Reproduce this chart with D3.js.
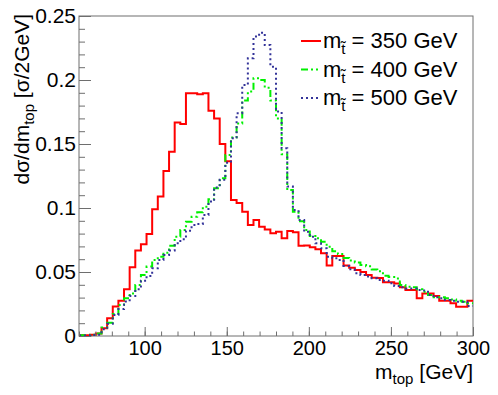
<!DOCTYPE html>
<html>
<head>
<meta charset="utf-8">
<script src="https://cdn.jsdelivr.net/npm/d3@7"></script>
<style>
body { margin: 0; background: #fff; }
text { font-family: "Liberation Sans", Arial, Helvetica, sans-serif; }
</style>
</head>
<body>
<div id="chart"></div>
<script>
let WIDTH = 498
let HEIGHT = 395

// histogram binning: 70 bins between 60 and 300 GeV
let binLow = 60
let binHigh = 300
let nBins = 70

// bin contents, one value per bin
let stop350 = [0.0005, 0.0005, 0.001, 0.002, 0.006, 0.0138, 0.023, 0.0276, 0.0365, 0.0537,
  0.0667, 0.0716, 0.0797, 0.099, 0.1089, 0.129, 0.144, 0.1667, 0.1656, 0.1896,
  0.1896, 0.1888, 0.1896, 0.176, 0.170, 0.150, 0.1365, 0.1063, 0.104, 0.0971,
  0.0867, 0.0906, 0.0854, 0.0833, 0.0802, 0.0815, 0.0763, 0.082, 0.081, 0.0705,
  0.0708, 0.0693, 0.0677, 0.0646, 0.0550, 0.0625, 0.0625, 0.0551, 0.0533, 0.0516,
  0.050, 0.0477, 0.0456, 0.0453, 0.042, 0.042, 0.041, 0.038, 0.0359, 0.0359,
  0.0294, 0.0333, 0.0333, 0.0312, 0.0276, 0.0276, 0.0255, 0.0229, 0.0229, 0.0276]

let stop400 = [0.0005, 0.0005, 0.001, 0.002, 0.0067, 0.0104, 0.0172, 0.0242, 0.0294, 0.0333,
  0.0398, 0.0477, 0.0542, 0.0594, 0.062, 0.0651, 0.0706, 0.0776, 0.0828, 0.0893,
  0.0932, 0.0966, 0.101, 0.1068, 0.1154, 0.1232, 0.1414, 0.155, 0.166, 0.184,
  0.191, 0.2013, 0.200, 0.194, 0.184, 0.17, 0.142, 0.114, 0.097, 0.0896,
  0.0828, 0.0781, 0.0763, 0.0737, 0.0698, 0.0662, 0.064, 0.061, 0.059, 0.0575,
  0.0555, 0.0545, 0.052, 0.0505, 0.047, 0.046, 0.045, 0.0398, 0.0385, 0.038,
  0.0365, 0.0346, 0.032, 0.0302, 0.0302, 0.0294, 0.0286, 0.0276, 0.0268, 0.0255]

let stop500 = [0.0003, 0.0003, 0.0008, 0.001, 0.0052, 0.0096, 0.0164, 0.021, 0.027, 0.0313,
  0.0365, 0.0432, 0.0469, 0.0529, 0.0594, 0.0633, 0.0667, 0.0724, 0.0755, 0.0823,
  0.0867, 0.0875, 0.0945, 0.105, 0.1161, 0.122, 0.1354, 0.1544, 0.174, 0.196,
  0.217, 0.2339, 0.237, 0.2273, 0.2104, 0.1753, 0.1466, 0.1167, 0.0984, 0.0906,
  0.0815, 0.0776, 0.0724, 0.0685, 0.062, 0.0607, 0.0594, 0.0547, 0.0521, 0.049,
  0.0477, 0.0464, 0.0451, 0.0438, 0.0432, 0.0412, 0.0391, 0.038, 0.0372, 0.0372,
  0.0359, 0.0355, 0.032, 0.0302, 0.0294, 0.0281, 0.0276, 0.0268, 0.0268, 0.0234]

let legendMasses = ['350', '400', '500']

let xMajor = [100, 150, 200, 250, 300]
let xMinor = d3.range(60, 301, 10)
let yMajor = [0, 0.05, 0.1, 0.15, 0.2, 0.25]
let yTickLabels = ['0', '0.05', '0.1', '0.15', '0.2', '0.25']
let yMinor = d3.range(0, 0.2501, 0.01)

let svg = d3.select('#chart')
    .append('svg')
    .attr('width', WIDTH)
    .attr('height', HEIGHT)

let x = d3.scaleLinear().domain([binLow, binHigh]).range([79, 473])
let y = d3.scaleLinear().domain([0, 0.25]).range([336, 16])

let frameColor = '#6e6e6e'
let labelSize = 21

// frame
svg.append('rect')
    .attr('x', x(binLow)).attr('y', y(0.25))
    .attr('width', x(binHigh) - x(binLow))
    .attr('height', y(0) - y(0.25))
    .attr('fill', 'none')
    .attr('stroke', frameColor)
    .attr('stroke-width', 1)

svg.append('clipPath').attr('id', 'plotArea')
    .append('rect')
    .attr('x', x(binLow) - 1).attr('y', y(0.25))
    .attr('width', x(binHigh) - x(binLow) + 2)
    .attr('height', y(0) - y(0.25) + 1)

let series = [
    { values: stop350, color: '#ff0000', dash: null },
    { values: stop400, color: '#00f000', dash: '7,3,2,3,2,3' },
    { values: stop500, color: '#333399', dash: '2,3' }
]

let binWidth = (binHigh - binLow) / nBins
let stepLine = d3.line()
    .x(d => x(d[0]))
    .y(d => y(d[1]))
    .curve(d3.curveStepAfter)

let histG = svg.append('g').attr('clip-path', 'url(#plotArea)')
series.forEach(s => {
    let pts = s.values.map((v, i) => [binLow + i * binWidth, v])
    pts.push([binHigh, s.values[s.values.length - 1]])
    histG.append('path')
        .attr('d', stepLine(pts))
        .attr('fill', 'none')
        .attr('stroke', s.color)
        .attr('stroke-width', 2)
        .attr('stroke-dasharray', s.dash)
})

// x axis: ticks inside the frame, labels below
let xMinorG = svg.append('g').attr('transform', `translate(0,${y(0)})`)
    .call(d3.axisBottom(x).tickValues(xMinor).tickSize(-4.5).tickSizeOuter(0).tickFormat(''))
xMinorG.select('.domain').remove()
let xMajorG = svg.append('g').attr('transform', `translate(0,${y(0)})`)
    .call(d3.axisBottom(x).tickValues(xMajor).tickSize(-9).tickSizeOuter(0).tickPadding(5))
xMajorG.select('.domain').remove()
xMajorG.selectAll('text').attr('font-size', 20).attr('fill', '#000')
    .attr('font-family', '"Liberation Sans", Arial, sans-serif')

// y axis
let yMinorG = svg.append('g').attr('transform', `translate(${x(binLow)},0)`)
    .call(d3.axisLeft(y).tickValues(yMinor).tickSize(-6).tickSizeOuter(0).tickFormat(''))
yMinorG.select('.domain').remove()
let yMajorG = svg.append('g').attr('transform', `translate(${x(binLow)},0)`)
    .call(d3.axisLeft(y).tickValues(yMajor).tickSize(-12).tickSizeOuter(0).tickPadding(3)
        .tickFormat((d, i) => yTickLabels[i]))
yMajorG.select('.domain').remove()
yMajorG.selectAll('text').attr('font-size', labelSize).attr('fill', '#000')
    .attr('font-family', '"Liberation Sans", Arial, sans-serif')

svg.selectAll('.tick line').attr('stroke', frameColor)

// axis titles
let xTitle = svg.append('text')
    .attr('x', 473).attr('y', 379)
    .attr('text-anchor', 'end')
    .attr('font-size', labelSize)
xTitle.append('tspan').text('m')
xTitle.append('tspan').attr('font-size', 15).attr('dy', 5).text('top')
xTitle.append('tspan').attr('dy', -5).text(' [GeV]')

let yTitle = svg.append('text')
    .attr('transform', 'translate(29,14) rotate(-90)')
    .attr('text-anchor', 'end')
    .attr('font-size', labelSize)
yTitle.append('tspan').text('dσ/dm')
yTitle.append('tspan').attr('font-size', 15).attr('dy', 5).text('top')
yTitle.append('tspan').attr('dy', -5).text(' [σ/2GeV]')

// legend
let legend = svg.append('g')
series.forEach((s, i) => {
    let cy = 41 + i * 28.5
    legend.append('line')
        .attr('x1', 301).attr('x2', 321)
        .attr('y1', cy).attr('y2', cy)
        .attr('stroke', s.color)
        .attr('stroke-width', 2)
        .attr('stroke-dasharray', s.dash)
    let t = legend.append('text')
        .attr('x', 323).attr('y', cy + 7)
        .attr('font-size', 22)
    t.append('tspan').text('m')
    t.append('tspan').attr('font-size', 15).attr('dy', 6).text('t\u0303')
    t.append('tspan').attr('dy', -6).text(` = ${legendMasses[i]} GeV`)
})
</script>
</body>
</html>
